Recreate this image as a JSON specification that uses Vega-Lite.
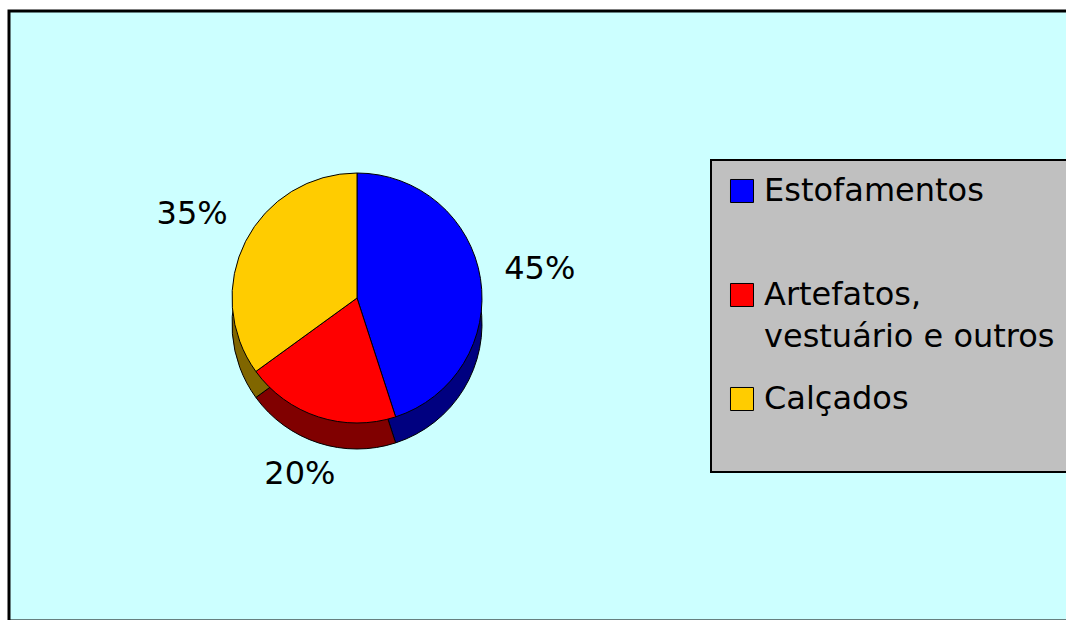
{
  "$schema": "https://vega.github.io/schema/vega-lite/v6.json",
  "width": 1060,
  "height": 610,
  "padding": {"left": 9, "top": 11, "right": 0, "bottom": 0},
  "autosize": {"type": "none"},
  "background": "white",
  "view": {"fill": "#CCFFFF", "stroke": "black", "strokeWidth": 3},
  "config": {
    "view": {"fill": "#CCFFFF", "stroke": "black", "strokeWidth": 3},
    "font": "DejaVu Sans"
  },
  "data": {
    "values": [
      {"categoria": "Estofamentos", "valor": 0.45, "ord": 1},
      {"categoria": "Artefatos, vestuário e outros", "valor": 0.20, "ord": 2},
      {"categoria": "Calçados", "valor": 0.35, "ord": 3}
    ]
  },
  "layer": [
    {
      "mark": {"type": "arc", "radius": 125, "xOffset": -182, "yOffset": 8, "stroke": "black", "strokeWidth": 1},
      "encoding": {
        "theta": {"field": "valor", "type": "quantitative", "stack": true},
        "order": {"field": "ord", "type": "quantitative"},
        "color": {
          "field": "categoria", "type": "nominal", "legend": null,
          "scale": {"domain": ["Estofamentos", "Artefatos, vestuário e outros", "Calçados"], "range": ["#000080", "#800000", "#806600"]}
        }
      }
    },
    {
      "mark": {"type": "arc", "radius": 125, "xOffset": -182, "yOffset": -18, "stroke": "black", "strokeWidth": 1},
      "encoding": {
        "theta": {"field": "valor", "type": "quantitative", "stack": true},
        "order": {"field": "ord", "type": "quantitative"},
        "color": {
          "field": "categoria", "type": "nominal",
          "scale": {"domain": ["Estofamentos", "Artefatos, vestuário e outros", "Calçados"], "range": ["#0000FF", "#FF0000", "#FFCC00"]},
          "legend": {
            "title": null,
            "orient": "none",
            "legendX": 702,
            "legendY": 149,
            "fillColor": "#C0C0C0",
            "strokeColor": "black",
            "padding": 15,
            "symbolType": "square",
            "symbolSize": 530,
            "symbolStrokeColor": "black",
            "symbolStrokeWidth": 1,
            "labelFont": "DejaVu Sans",
            "labelFontSize": 32,
            "labelColor": "black",
            "labelOffset": 6,
            "labelLimit": 400,
            "rowPadding": 30,
            "labelExpr": "datum.label == 'Artefatos, vestuário e outros' ? ['Artefatos,', 'vestuário e outros'] : [datum.label, '']",
            "encode": {
              "legend": {"update": {"strokeWidth": {"value": 2}}},
              "labels": {"update": {"lineHeight": {"value": 42}}}
            }
          }
        }
      }
    },
    {
      "mark": {"type": "text", "radius": 185, "xOffset": -182, "yOffset": -18, "fontSize": 32, "font": "DejaVu Sans", "color": "black"},
      "encoding": {
        "theta": {"field": "valor", "type": "quantitative", "stack": true},
        "order": {"field": "ord", "type": "quantitative"},
        "text": {"field": "valor", "type": "quantitative", "format": ".0%"}
      }
    }
  ],
  "resolve": {"scale": {"color": "independent"}}
}
